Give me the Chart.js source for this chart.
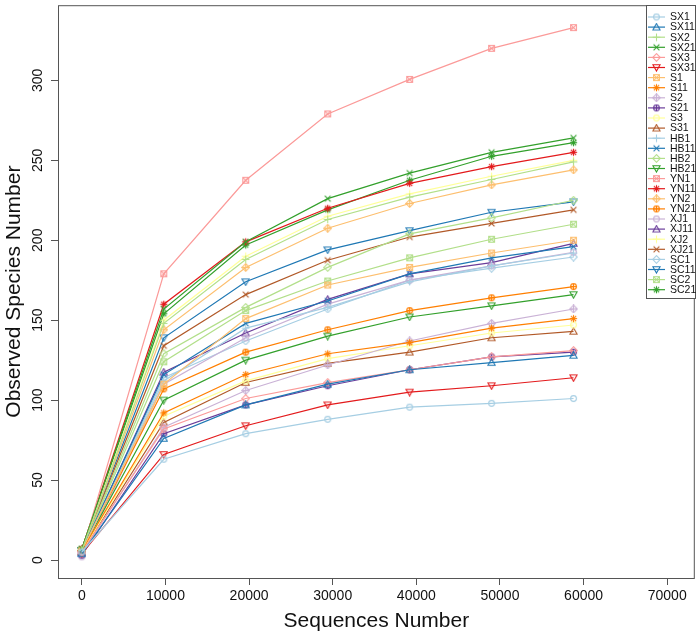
<!DOCTYPE html>
<html>
<head>
<meta charset="utf-8">
<script src="https://cdn.jsdelivr.net/npm/chart.js@4"></script>
<style>
  body { margin: 0; background: #fff; }
  #wrap { width: 700px; height: 633px; }
</style>
</head>
<body>
<div id="wrap"><canvas id="myChart" width="700" height="633"></canvas></div>
<script>
const ctx = document.getElementById("myChart").getContext("2d");

// sequencing depth at each rarefaction step
const depths = [0, 9800, 19600, 29400, 39200, 49000, 58800];

const sampleNames = ["SX1", "SX11", "SX2", "SX21", "SX3", "SX31", "S1", "S11", "S2", "S21",
  "S3", "S31", "HB1", "HB11", "HB2", "HB21", "YN1", "YN11", "YN2", "YN21",
  "XJ1", "XJ11", "XJ2", "XJ21", "SC1", "SC11", "SC2", "SC21"];

// observed species per sample
const SX1 = [5, 63, 79, 88, 95.6, 98, 101];
const SX11 = [4, 76, 97, 110, 119, 123.5, 128];
const SX2 = [6, 148, 188, 213, 227, 238, 249];
const SX21 = [7, 157, 199, 226, 242, 255, 264];
const SX3 = [5, 82, 101, 111, 119, 127, 131];
const SX31 = [4, 66, 84, 97, 105, 109, 114];
const S1 = [6, 110, 151, 172, 183, 192, 200];
const S11 = [6, 92, 116, 129, 136, 145, 151];
const S2 = [4, 83, 106, 122, 137, 148, 157];
const S21 = [3, 79, 97, 109, 119, 127, 130];
const S3 = [5, 90, 112, 126, 134, 142, 147];
const S31 = [5, 86, 111, 123, 130, 139, 143];
const HB1 = [5, 112, 145, 158, 174, 184, 192];
const HB11 = [6, 116, 148, 162, 179, 189, 196];
const HB2 = [6, 129, 158, 183, 204, 214, 225];
const HB21 = [6, 100, 125, 140, 152, 159, 166];
const YN1 = [5, 179, 237.5, 279, 300.6, 320, 333];
const YN11 = [7, 160, 199, 220, 235.6, 246, 255];
const YN2 = [6, 144, 183, 207.5, 223, 234.6, 244];
const YN21 = [6, 107, 130, 144, 156, 164, 171];
const XJ1 = [2, 110, 139, 160, 175, 184, 192.5];
const XJ11 = [5, 117.5, 142, 163, 179, 186, 198];
const XJ2 = [6, 150, 190, 215, 229, 240, 250];
const XJ21 = [6, 134, 166, 187.5, 202, 210.5, 219];
const SC1 = [5, 114, 137, 157, 175, 182.5, 189.5];
const SC11 = [6, 139, 174, 194, 206, 217.5, 224];
const SC2 = [6, 124, 156, 174.5, 189, 200.6, 210];
const SC21 = [7, 154, 197, 219, 237.5, 252.5, 261];

const seriesValues = [SX1, SX11, SX2, SX21, SX3, SX31, S1, S11, S2, S21,
  S3, S31, HB1, HB11, HB2, HB21, YN1, YN11, YN2, YN21,
  XJ1, XJ11, XJ2, XJ21, SC1, SC11, SC2, SC21];

const xTicks = [0, 10000, 20000, 30000, 40000, 50000, 60000, 70000];
const yTicks = [0, 50, 100, 150, 200, 250, 300];

const palette = ["#A6CEE3", "#1F78B4", "#B2DF8A", "#33A02C", "#FB9A99", "#E31A1C",
  "#FDBF6F", "#FF7F00", "#CAB2D6", "#6A3D9A", "#FFFF99", "#B15928"];

// R style plotting symbols pch 1..10 drawn on little canvases
const makeMarker = (pch, color) => {
  const c = document.createElement("canvas");
  c.width = 9; c.height = 9;
  const g = c.getContext("2d");
  g.strokeStyle = color;
  g.lineWidth = 1.1;
  const m = 4.5, r = 2.9;
  const line = (x1, y1, x2, y2) => { g.beginPath(); g.moveTo(x1, y1); g.lineTo(x2, y2); g.stroke(); };
  const circle = () => { g.beginPath(); g.arc(m, m, r, 0, Math.PI * 2); g.stroke(); };
  const plus = (k) => { line(m - k, m, m + k, m); line(m, m - k, m, m + k); };
  const cross = (k) => { line(m - k, m - k, m + k, m + k); line(m - k, m + k, m + k, m - k); };
  const diamond = () => {
    g.beginPath(); g.moveTo(m, m - 3.8); g.lineTo(m + 3.8, m); g.lineTo(m, m + 3.8); g.lineTo(m - 3.8, m); g.closePath(); g.stroke();
  };
  if (pch === 1) circle();
  if (pch === 2) { g.beginPath(); g.moveTo(m, m - 3.6); g.lineTo(m + 3.6, m + 2.7); g.lineTo(m - 3.6, m + 2.7); g.closePath(); g.stroke(); }
  if (pch === 3) plus(3.8);
  if (pch === 4) cross(2.9);
  if (pch === 5) diamond();
  if (pch === 6) { g.beginPath(); g.moveTo(m, m + 3.6); g.lineTo(m + 3.6, m - 2.7); g.lineTo(m - 3.6, m - 2.7); g.closePath(); g.stroke(); }
  if (pch === 7) { g.strokeRect(m - 2.9, m - 2.9, 5.8, 5.8); cross(2.9); }
  if (pch === 8) { plus(3.6); cross(2.6); }
  if (pch === 9) { diamond(); plus(3.8); }
  if (pch === 10) { circle(); plus(2.9); }
  return c;
};

const datasets = sampleNames.map((name, i) => {
  const color = palette[i % 12];
  return {
    label: name,
    data: depths.map((d, j) => ({ x: d, y: seriesValues[i][j] })),
    borderColor: color,
    backgroundColor: color,
    borderWidth: 1.2,
    pointStyle: makeMarker((i % 10) + 1, color),
    pointRadius: 4,
    tension: 0,
  };
});

const font = "'Liberation Sans', Arial, sans-serif";

const rStyle = {
  id: "rStyle",
  afterDraw(chart) {
    const g = chart.ctx;
    const a = chart.chartArea;
    const ys = chart.scales.y;
    g.save();
    g.strokeStyle = "#555";
    g.lineWidth = 1;
    g.strokeRect(a.left + 0.5, a.top + 0.5, a.right - a.left - 1, a.bottom - a.top);

    // rotated y tick labels and axis titles
    g.fillStyle = "#111";
    g.font = "14px " + font;
    g.textAlign = "center";
    g.textBaseline = "middle";
    yTicks.forEach(v => {
      g.save();
      g.translate(38, ys.getPixelForValue(v));
      g.rotate(-Math.PI / 2);
      g.fillText(String(v), 0, 0);
      g.restore();
    });
    g.font = "21px " + font;
    g.save();
    g.translate(14, (a.top + a.bottom) / 2);
    g.rotate(-Math.PI / 2);
    g.fillText("Observed Species Number", 0, 0);
    g.restore();
    g.fillText("Sequences Number", (a.left + a.right) / 2, 621);

    // legend box in the top right corner
    const lx = 646, ly = 5, lw = 49, lh = 293;
    g.fillStyle = "#fff";
    g.fillRect(lx, ly, lw, lh);
    g.strokeStyle = "#555";
    g.strokeRect(lx + 0.5, ly + 0.5, lw, lh);
    g.font = "10.5px " + font;
    g.textAlign = "left";
    chart.data.datasets.forEach((ds, i) => {
      const y = 17 + i * 10.1;
      g.strokeStyle = ds.borderColor;
      g.lineWidth = 1.2;
      g.beginPath(); g.moveTo(648, y); g.lineTo(665, y); g.stroke();
      g.drawImage(ds.pointStyle, 652, y - 4.5);
      g.fillStyle = "#111";
      g.fillText(ds.label, 670, y + 0.5);
    });
    g.restore();
  }
};

new Chart(ctx, {
  type: "line",
  data: { datasets: datasets },
  options: {
    responsive: false,
    animation: false,
    layout: { padding: { top: 5, right: 2, left: 0, bottom: 0 } },
    plugins: { legend: { display: false }, tooltip: { enabled: false } },
    scales: {
      x: {
        type: "linear",
        min: -2850,
        max: 73300,
        afterBuildTicks: (s) => { s.ticks = xTicks.map(v => ({ value: v })); },
        afterFit: (s) => { s.height = 55; },
        border: { display: false },
        grid: { drawOnChartArea: false, drawTicks: true, tickLength: 7, color: "#555" },
        ticks: {
          color: "#111", font: { size: 14, family: font }, padding: 3, maxRotation: 0, autoSkip: false,
          callback: (v) => String(v),
        },
      },
      y: {
        type: "linear",
        min: -11.25,
        max: 347,
        afterBuildTicks: (s) => { s.ticks = yTicks.map(v => ({ value: v })); },
        afterFit: (s) => { s.width = 58; },
        border: { display: false },
        grid: { drawOnChartArea: false, drawTicks: true, tickLength: 7, color: "#555" },
        ticks: { display: false },
      },
    },
  },
  plugins: [rStyle],
});
</script>
</body>
</html>
